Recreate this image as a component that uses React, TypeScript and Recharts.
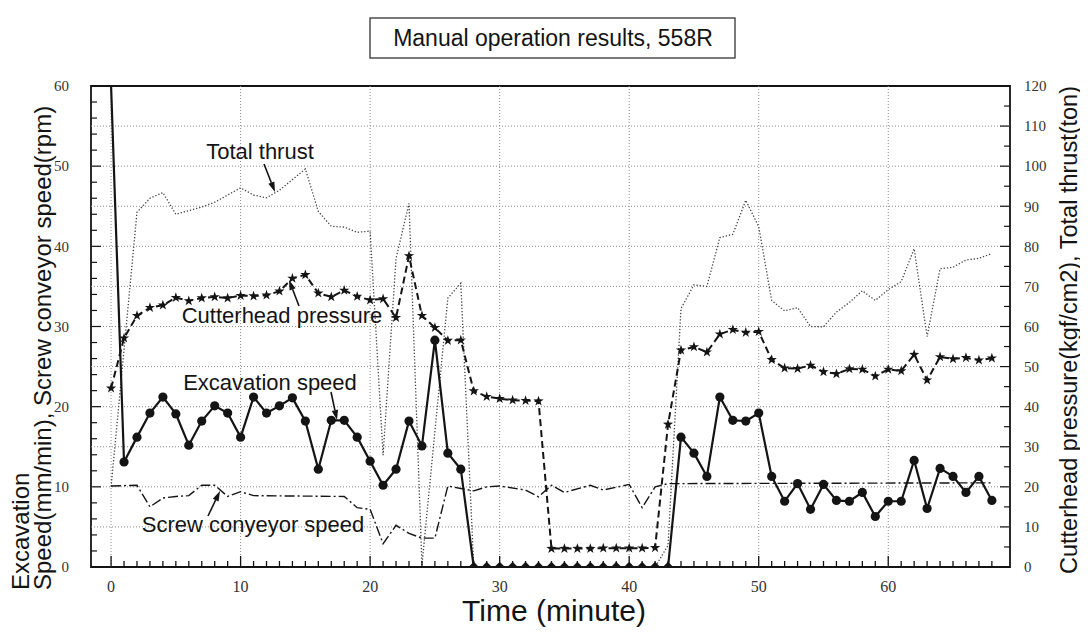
import React from "react";
import { LineChart, Line, XAxis, YAxis, ReferenceLine, ReferenceArea } from "recharts";

// ─── DATA ─────────────────────────────────────────────────────────────────────

// one reading per minute for the marked series
const minutes = Array.from({ length: 69 }, (_, i) => i);

// Excavation speed (mm/min), left axis
const excavation = [
  60, 13.1, 16.2, 19.2, 21.2, 19.1, 15.2, 18.2, 20.1, 19.2, 16.2, 21.2, 19.2, 20.1,
  21.1, 18.2, 12.2, 18.3, 18.3, 16.2, 13.2, 10.2, 12.2, 18.2, 15.1, 28.3, 14.2, 12.2,
  0, 0, 0, 0, 0, 0, 0, 0, 0, 0, 0, 0, 0, 0, 0, 0,
  16.2, 14.2, 11.3, 21.2, 18.3, 18.2, 19.2, 11.3, 8.2, 10.4, 7.2, 10.3, 8.3, 8.2,
  9.3, 6.3, 8.2, 8.2, 13.3, 7.3, 12.3, 11.3, 9.3, 11.3, 8.3,
];

// Cutterhead pressure (kgf/cm2), right axis
const pressure = [
  44.6, 57.1, 62.7, 64.7, 65.3, 67.2, 66.4, 67.1, 67.4, 67.1, 67.7, 67.6, 67.8, 68.8,
  72.0, 72.9, 68.3, 67.4, 69.0, 67.5, 66.6, 66.9, 62.2, 77.6, 62.7, 59.7, 56.5, 56.6,
  43.9, 42.5, 42.0, 41.6, 41.5, 41.4,
  4.6, 4.6, 4.6, 4.6, 4.7, 4.7, 4.7, 4.7, 4.8,
  35.6, 54.1, 54.9, 53.6, 58.1, 59.2, 58.5, 58.7, 51.7, 49.6, 49.5, 50.3, 48.7, 48.2,
  49.4, 49.3, 47.6, 49.3, 48.9, 53.0, 46.6, 52.4, 51.9, 52.2, 51.6, 52.1,
];

// Total thrust (ton), right axis - corners of the dotted line
const thrustTime = [
  0, 2, 3, 4, 5, 7, 8, 10, 11, 12, 13, 15, 16, 17, 18, 19, 20, 21, 22, 23,
  24, 26, 27, 28, 42, 43, 44, 45, 46, 47, 48, 49, 50, 51, 52, 53, 54, 55, 56, 57,
  58, 59, 60, 61, 62, 63, 64, 65, 66, 67, 68,
];
const thrust = [
  20, 88.5, 92, 93.4, 88, 89.8, 91, 94.6, 92.8, 92.1, 94, 99.3, 88.7, 85, 84.8, 83.5, 83.8, 27.9, 77, 90.7,
  0.5, 67.1, 70.8, 0, 0, 5.4, 64.5, 70.4, 70, 82.2, 83, 91.5, 84.9, 66.5, 63.9, 64.7, 60, 59.9, 63.6, 66,
  68.9, 66.5, 69.2, 71.2, 79.4, 57.5, 74.4, 74.8, 76.6, 77, 78.2,
];

// Screw conveyor speed (rpm), left axis - corners of the dash-dot line
const screwTime = [
  0, 2, 3, 4, 5, 6, 7, 8, 9, 10, 11, 18, 19, 20, 21, 22, 23, 24, 25, 26,
  27, 28, 29, 30, 32, 33, 34, 35, 37, 38, 40, 41, 42, 43, 68,
];
const screw = [
  10.1, 10.2, 7.5, 8.6, 8.8, 8.9, 10.2, 10.2, 8.8, 9.4, 8.9, 8.8, 7.4, 7.2, 2.9, 5.2, 4.2, 3.6, 3.6, 10.1,
  9.8, 9.5, 10.0, 10.1, 9.6, 8.75, 10.2, 9.3, 10.2, 9.6, 10.3, 7.4, 10.0, 10.4, 10.5,
];

const leftTicks = Array.from({ length: 31 }, (_, i) => i * 2);
const rightTicks = Array.from({ length: 25 }, (_, i) => i * 5);
const gridY = [5, 10, 15, 20, 25, 30, 35, 40, 45, 50, 55];
const gridX = [0, 10, 20, 30, 40, 50, 60];

const excData = minutes.map((t, i) => ({ t, v: excavation[i] }));
const pressureData = minutes.map((t, i) => ({ t, v: pressure[i] }));
const thrustData = thrustTime.map((t, i) => ({ t, v: thrust[i] }));
const screwData = screwTime.map((t, i) => ({ t, v: screw[i] }));

// ─── LAYOUT ───────────────────────────────────────────────────────────────────

const W = 1072;
const H = 628;
const X_DOMAIN: [number, number] = [-1.55, 69.4];
const SANS = "Liberation Sans";
const SERIF = "Liberation Serif";
const INK = "#141414";

// ─── TICKS (inward marks, labels outside) ─────────────────────────────────────

const XTick = ({ x, y, payload }: any) => {
  const v = payload.value;
  const major = v % 10 === 0;
  return (
    <g>
      <line x1={x} x2={x} y1={y} y2={y - (major ? 11 : 6)} stroke={INK} strokeWidth={1.3} />
      {major && (
        <text x={x} y={y + 25} textAnchor="middle" fontFamily={SERIF} fontSize={16} fill="#333">
          {v}
        </text>
      )}
    </g>
  );
};

const LeftTick = ({ x, y, payload }: any) => {
  const v = payload.value;
  const major = v % 10 === 0;
  return (
    <g>
      <line x1={x} x2={x + (major ? 10 : 6)} y1={y} y2={y} stroke={INK} strokeWidth={1.2} />
      {major && (
        <text x={x - 22} y={y} dy="0.35em" textAnchor="end" fontFamily={SERIF} fontSize={15} fill="#333">
          {v}
        </text>
      )}
    </g>
  );
};

const RightTick = ({ x, y, payload }: any) => {
  const v = payload.value;
  const major = v % 10 === 0;
  return (
    <g>
      <line x1={x} x2={x - (major ? 10 : 6)} y1={y} y2={y} stroke={INK} strokeWidth={1.2} />
      {major && (
        <text x={x + 14} y={y} dy="0.35em" textAnchor="start" fontFamily={SERIF} fontSize={15} fill="#333">
          {v}
        </text>
      )}
    </g>
  );
};

// ─── MARKERS ──────────────────────────────────────────────────────────────────

const RoundDot = ({ cx, cy, index, value }: any) => {
  if (index === 0 || cx == null) return <g />;
  if (value === 0) {
    const s = 5.2;
    return (
      <path
        d={`M${cx - s},${cy} L${cx},${cy - s} L${cx + s},${cy} L${cx},${cy + s} Z`}
        fill={INK}
      />
    );
  }
  return <circle cx={cx} cy={cy} r={4.6} fill={INK} />;
};

const StarDot = ({ cx, cy }: any) => {
  if (cx == null) return <g />;
  const pts: string[] = [];
  for (let k = 0; k < 10; k++) {
    const r = k % 2 === 0 ? 5.4 : 2.1;
    const a = -Math.PI / 2 + (k * Math.PI) / 5;
    pts.push(`${cx + r * Math.cos(a)},${cy + r * Math.sin(a)}`);
  }
  return <polygon points={pts.join(" ")} fill={INK} />;
};

// ─── ANNOTATIONS ──────────────────────────────────────────────────────────────

function Arrow({ x1, y1, x2, y2 }: { x1: number; y1: number; x2: number; y2: number }) {
  const a = Math.atan2(y2 - y1, x2 - x1);
  const len = 10;
  const half = 3.2;
  const bx = x2 - len * Math.cos(a);
  const by = y2 - len * Math.sin(a);
  const px = -Math.sin(a) * half;
  const py = Math.cos(a) * half;
  return (
    <g>
      <line x1={x1} y1={y1} x2={bx} y2={by} stroke={INK} strokeWidth={1.6} />
      <polygon points={`${x2},${y2} ${bx + px},${by + py} ${bx - px},${by - py}`} fill={INK} />
    </g>
  );
}

function Overlay() {
  const label = { fontFamily: SANS, fontSize: 22, fill: INK, textAnchor: "middle" as const };
  return (
    <svg
      width={W}
      height={H}
      style={{ position: "absolute", left: 0, top: 0, overflow: "visible", pointerEvents: "none" }}
    >
      {/* title box */}
      <rect x={362} y={10} width={365} height={40} fill="#fff" stroke="#333" strokeWidth={1.3} />
      <text x={545} y={30} dy="0.35em" textAnchor="middle" fontFamily={SANS} fontSize={23} fill={INK}>
        Manual operation results, 558R
      </text>

      {/* series labels */}
      <text x={252} y={143} dy="0.35em" {...label}>Total thrust</text>
      <Arrow x1={256} y1={156} x2={267} y2={184} />

      <text x={274} y={307} dy="0.35em" {...label}>Cutterhead pressure</text>
      <Arrow x1={291} y1={298} x2={281} y2={272} />

      <text x={262} y={374} dy="0.35em" {...label}>Excavation speed</text>
      <Arrow x1={323} y1={384} x2={329} y2={412} />

      <text x={245} y={516} dy="0.35em" {...label}>Screw conyeyor speed</text>
      <Arrow x1={200} y1={508} x2={212} y2={483} />

      {/* axis titles */}
      <g transform="translate(21,582) rotate(-90)">
        <text x={0} y={0} fontFamily={SANS} fontSize={24} fill={INK}>Excavation</text>
      </g>
      <g transform="translate(43,582) rotate(-90)">
        <text x={0} y={0} fontFamily={SANS} fontSize={24} fill={INK}>
          Speed(mm/min), Screw conveyor speed(rpm)
        </text>
      </g>
      <g transform="translate(1069,322) rotate(-90)">
        <text x={0} y={0} textAnchor="middle" fontFamily={SANS} fontSize={23.5} fill={INK}>
          Cutterhead pressure(kgf/cm2), Total thrust(ton)
        </text>
      </g>
      <text x={546} y={613} textAnchor="middle" fontFamily={SANS} fontSize={30} fill={INK}>
        Time (minute)
      </text>
    </svg>
  );
}

// ─── MAIN ─────────────────────────────────────────────────────────────────────

export default function App() {
  return (
    <div style={{ position: "relative", width: W, height: H, background: "#fff" }}>
      <LineChart width={W} height={H} margin={{ top: 78, right: 30, left: 43, bottom: 39 }}>
        <XAxis
          type="number"
          dataKey="t"
          domain={X_DOMAIN}
          allowDataOverflow
          ticks={minutes}
          interval={0}
          tick={(p: any) => <XTick {...p} />}
          tickSize={0}
          tickMargin={0}
          tickLine={false}
          axisLine={false}
          height={30}
        />
        <YAxis
          yAxisId="left"
          orientation="left"
          domain={[0, 60]}
          allowDataOverflow
          ticks={leftTicks}
          interval={0}
          tick={(p: any) => <LeftTick {...p} />}
          tickSize={0}
          tickMargin={0}
          tickLine={false}
          axisLine={false}
          width={40}
        />
        <YAxis
          yAxisId="right"
          orientation="right"
          domain={[0, 120]}
          allowDataOverflow
          ticks={rightTicks}
          interval={0}
          tick={(p: any) => <RightTick {...p} />}
          tickSize={0}
          tickMargin={0}
          tickLine={false}
          axisLine={false}
          width={40}
        />

        {/* dotted grid */}
        {gridY.map((v) => (
          <ReferenceLine key={`gy${v}`} yAxisId="left" y={v} stroke="#8a8a8a" strokeDasharray="1 2" />
        ))}
        {gridX.map((v) => (
          <ReferenceLine key={`gx${v}`} yAxisId="left" x={v} stroke="#8a8a8a" strokeDasharray="1 2" />
        ))}

        <Line
          yAxisId="right"
          data={thrustData}
          dataKey="v"
          type="linear"
          stroke="#444"
          strokeWidth={1.3}
          strokeDasharray="1.3 1.9"
          dot={false}
          activeDot={false}
          isAnimationActive={false}
        />
        <Line
          yAxisId="left"
          data={screwData}
          dataKey="v"
          type="linear"
          stroke={INK}
          strokeWidth={1.4}
          strokeDasharray="10 3 2 3"
          dot={false}
          activeDot={false}
          isAnimationActive={false}
        />
        <Line
          yAxisId="right"
          data={pressureData}
          dataKey="v"
          type="linear"
          stroke={INK}
          strokeWidth={2}
          strokeDasharray="7 4"
          dot={(p: any) => <StarDot key={`s${p.index}`} {...p} />}
          activeDot={false}
          isAnimationActive={false}
        />
        <Line
          yAxisId="left"
          data={excData}
          dataKey="v"
          type="linear"
          stroke={INK}
          strokeWidth={2.2}
          dot={(p: any) => <RoundDot key={`d${p.index}`} {...p} />}
          activeDot={false}
          isAnimationActive={false}
        />

        {/* plot frame */}
        <ReferenceArea
          yAxisId="left"
          x1={X_DOMAIN[0]}
          x2={X_DOMAIN[1]}
          y1={0}
          y2={60}
          fill="none"
          fillOpacity={0}
          stroke={INK}
          strokeWidth={1.8}
        />
      </LineChart>
      <Overlay />
    </div>
  );
}
